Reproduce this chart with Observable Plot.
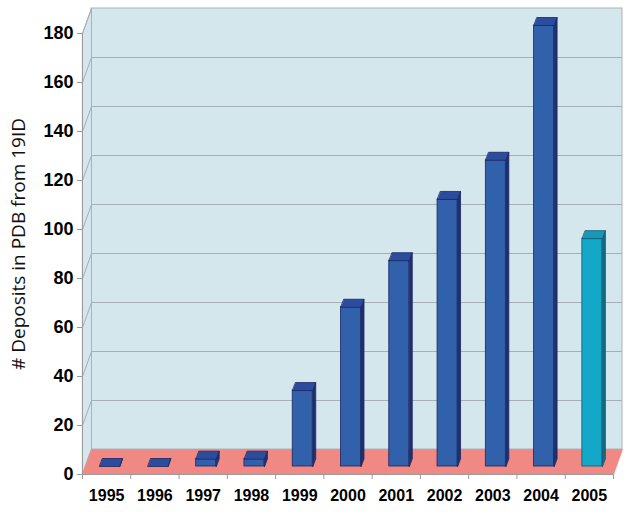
<!DOCTYPE html>
<html><head><meta charset="utf-8">
<script src="https://cdn.jsdelivr.net/npm/d3@7"></script>
<script src="https://cdn.jsdelivr.net/npm/@observablehq/plot@0.6"></script>
<style>body{margin:0;background:#fff}</style>
</head><body><div id="chart"></div>
<script>
// ---- data ----
const years = [1995, 1996, 1997, 1998, 1999, 2000, 2001, 2002, 2003, 2004, 2005];
const deposits = [0, 0, 3, 3, 31, 65, 84, 109, 125, 180, 93];
const yTicks = [0, 20, 40, 60, 80, 100, 120, 140, 160, 180];
const yLabel = "# Deposits in PDB from 19ID";
const partialYear = 2005;

// ---- layout / style ----
const W = 631, H = 513, mL = 82, mR = 18, mT = 33, mB = 39;
const yMax = 180;
const xDom = [years[0] - 0.5, years[years.length - 1] + 0.5];
const ux = (xDom[1] - xDom[0]) / (W - mL - mR);   // data units per px (x)
const uy = yMax / (H - mT - mB);                    // data units per px (y)
const wallPX = 9, wallPY = 25;                      // 3D depth of walls (px)
const barPX = 3, barPY = 8;                         // 3D depth of bars (px)
const barHalfPX = 10;
const wallDX = wallPX * ux, wallDY = wallPY * uy;
const barDX = barPX * ux, barDY = barPY * uy, half = barHalfPX * ux;

const wallFill = "#d4e7ed", gridStroke = "#a3b1b6", edgeStroke = "#a9b4b8";
const floorFill = "#f08883", axisGrey = "#9a9a9a";
const pal = {
  normal: {front: "#3261ab", top: "#2c4c9e", side: "#20306f", line: "#1b2663"},
  partial: {front: "#13a8c8", top: "#1a96b9", side: "#0e6c86", line: "#0b5a70"}
};

const bars = years.map((year, i) => ({year, value: deposits[i], kind: year === partialYear ? "partial" : "normal"}));

const poly = (id, pts, fill, stroke) => pts.map(([x, y]) => ({id, x, y, fill, stroke}));

const leftWall = poly("lw", [[xDom[0], 0], [xDom[0] + wallDX, wallDY], [xDom[0] + wallDX, yMax + wallDY], [xDom[0], yMax]], wallFill, edgeStroke);
const floor = poly("fl", [[xDom[0], 0], [xDom[1], 0], [xDom[1] + wallDX, wallDY], [xDom[0] + wallDX, wallDY]], floorFill, "#e57d78");

const tops = bars.flatMap(b => poly("t" + b.year, [
  [b.year - half, b.value], [b.year + half, b.value],
  [b.year + half + barDX, b.value + barDY], [b.year - half + barDX, b.value + barDY]
], pal[b.kind].top, pal[b.kind].line));
const sides = bars.flatMap(b => poly("s" + b.year, [
  [b.year + half, 0], [b.year + half, b.value],
  [b.year + half + barDX, b.value + barDY], [b.year + half + barDX, barDY]
], pal[b.kind].side, pal[b.kind].line));

const edges = d3.range(years.length + 1).map(i => xDom[0] + i);

const polyMark = (data, extra = {}) => Plot.line(data, {
  x: "x", y: "y", z: "id", fill: "fill", stroke: "stroke", strokeWidth: 0.8,
  curve: "linear-closed", ...extra
});

const chart = Plot.plot({
  width: W, height: H,
  marginLeft: mL, marginRight: mR, marginTop: mT, marginBottom: mB,
  style: {fontFamily: "'Liberation Sans', Arial, sans-serif", background: "white", overflow: "visible"},
  x: {type: "linear", domain: xDom},
  y: {domain: [0, yMax]},
  marks: [
    // back wall
    Plot.rect([0], {x1: () => xDom[0], x2: () => xDom[1], y1: () => 0, y2: () => yMax,
      dx: wallPX, dy: -wallPY, fill: wallFill, stroke: edgeStroke, strokeWidth: 1}),
    Plot.ruleY(yTicks.filter(t => t > 0 && t < yMax), {y: d => d, x1: () => xDom[0], x2: () => xDom[1],
      dx: wallPX, dy: -wallPY, stroke: gridStroke, strokeWidth: 1}),
    // left wall
    polyMark(leftWall, {strokeWidth: 1}),
    Plot.link(yTicks.filter(t => t > 0), {x1: () => xDom[0], y1: d => d, x2: () => xDom[0] + wallDX, y2: d => d + wallDY,
      stroke: gridStroke, strokeWidth: 1}),
    // floor
    polyMark(floor, {strokeWidth: 0.6}),
    // axis lines
    Plot.ruleX([xDom[0]], {x: d => d, y1: () => 0, y2: () => yMax, stroke: axisGrey, strokeWidth: 1}),
    Plot.ruleY([0], {y: d => d, x1: () => xDom[0], x2: () => xDom[1], stroke: axisGrey, strokeWidth: 1}),
    // bars (front, side, top)
    Plot.rect(bars, {x1: d => d.year - half, x2: d => d.year + half, y1: () => 0, y2: "value",
      dx: barPX, dy: -barPY, fill: d => pal[d.kind].front, stroke: d => pal[d.kind].line, strokeWidth: 0.8}),
    polyMark(sides, {dx: barPX, dy: -barPY}),
    polyMark(tops, {dx: barPX, dy: -barPY}),
    // axes
    Plot.axisY(yTicks, {tickSize: 5, tickPadding: 4, stroke: axisGrey, fill: "black",
      fontSize: 18, fontWeight: "bold", label: null}),
    Plot.axisX(edges, {tickSize: 5, tickFormat: () => "", stroke: axisGrey, label: null}),
    Plot.axisX(years, {tickSize: 0, tickPadding: 15, tickFormat: d => String(d), fill: "black",
      fontSize: 16, fontWeight: "bold", label: null}),
    // y title
    Plot.text([yLabel], {frameAnchor: "left", text: d => d, rotate: -90, dx: -64, dy: -10,
      fontSize: 19, fontFamily: "'Open Sans', 'Noto Sans', sans-serif", fill: "#111",
      textAnchor: "middle", lineAnchor: "middle"})
  ]
});
document.getElementById("chart").appendChild(chart);
</script>
</body></html>
